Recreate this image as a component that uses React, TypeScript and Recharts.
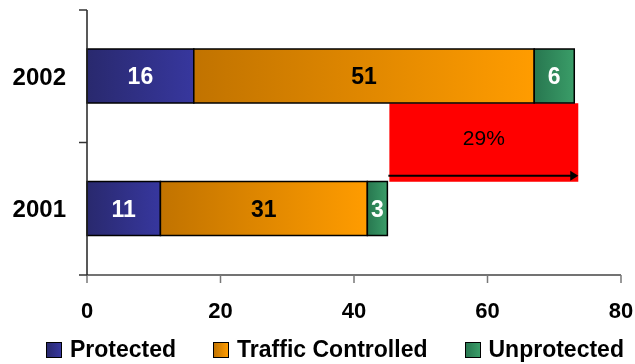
import React from 'react'
import { BarChart, Bar, XAxis, YAxis, Legend, LabelList, ReferenceArea } from 'recharts'

// values
const years = ['2002', '2001']
const protectedVals = [16, 11]
const trafficVals = [51, 31]
const unprotectedVals = [6, 3]
const xTicks = [0, 20, 40, 60, 80]

// the red "growth" box between the two bars
const growthLabel = '29%'
const growthFrom = 45.3
const growthTo = 73.6

const data = years.map((year, i) => ({
  year,
  protected: protectedVals[i],
  traffic: trafficVals[i],
  unprotected: unprotectedVals[i],
}))

const FONT = 'Arial, "Liberation Sans", sans-serif'
const BAR_SIZE = 54

const series = [
  { key: 'protected', name: 'Protected', from: '#29296e', to: '#37379e', label: '#ffffff' },
  { key: 'traffic', name: 'Traffic Controlled', from: '#c17300', to: '#ff9c00', label: '#000000' },
  { key: 'unprotected', name: 'Unprotected', from: '#287750', to: '#3a9d68', label: '#ffffff' },
]

const YearTick = (props: any) => {
  const { x, y, payload, index, visibleTicksCount } = props
  const half = payload.offset ?? 0
  return (
    <g>
      <text x={x} y={y} textAnchor="end" dominantBaseline="central" fontFamily={FONT} fontWeight="bold" fontSize={24} fill="#000">
        {payload.value}
      </text>
      <line x1={x + 13} x2={x + 21} y1={y - half} y2={y - half} stroke="#333" strokeWidth={1.5} />
      {index === visibleTicksCount - 1 && (
        <line x1={x + 13} x2={x + 21} y1={y + half} y2={y + half} stroke="#333" strokeWidth={1.5} />
      )}
    </g>
  )
}

// area spans both bands; the box sits in the gap between the two bars
const GrowthBox = (props: any) => {
  const { x, y, width, height } = props
  const top = y + height / 4 + BAR_SIZE / 2
  const bottom = y + (height * 3) / 4 - BAR_SIZE / 2
  const ay = bottom - 6
  const right = x + width
  return (
    <g>
      <rect x={x} y={top} width={width} height={bottom - top} fill="#ff0000" />
      <text x={x + width / 2} y={(top + bottom) / 2 - 5} textAnchor="middle" dominantBaseline="central" fontFamily={FONT} fontSize={21} fill="#000">
        {growthLabel}
      </text>
      <line x1={x - 1} y1={ay} x2={right - 6} y2={ay} stroke="#000" strokeWidth={2} />
      <path d={`M${right},${ay} L${right - 8},${ay - 5} L${right - 8},${ay + 5} Z`} fill="#000" />
    </g>
  )
}

const renderLegend = () => (
  <div style={{ display: 'flex', alignItems: 'center', fontFamily: FONT, fontWeight: 'bold', fontSize: 23, color: '#000', whiteSpace: 'nowrap' }}>
    {series.map((s, i) => (
      <div key={s.key} style={{ display: 'flex', alignItems: 'center', marginLeft: i === 0 ? 0 : 37 }}>
        <span
          style={{
            display: 'inline-block',
            width: 14,
            height: 14,
            border: '1.5px solid #000',
            background: `linear-gradient(to right, ${s.from}, ${s.to})`,
          }}
        />
        <span style={{ marginLeft: 8 }}>{s.name}</span>
      </div>
    ))}
  </div>
)

export default function App() {
  return (
    <div style={{ position: 'fixed', left: 0, top: 0 }}>
      <BarChart width={635} height={364} data={data} layout="vertical" margin={{ top: 10, right: 14, left: 0, bottom: 0 }}>
        <defs>
          {series.map((s) => (
            <linearGradient key={s.key} id={`grad-${s.key}`} x1="0" y1="0" x2="1" y2="0">
              <stop offset="0%" stopColor={s.from} />
              <stop offset="100%" stopColor={s.to} />
            </linearGradient>
          ))}
        </defs>
        <XAxis
          type="number"
          domain={[0, 80]}
          ticks={xTicks}
          interval={0}
          height={61}
          axisLine={{ stroke: '#444', strokeWidth: 1.5 }}
          tickLine={{ stroke: '#777', strokeWidth: 1.5 }}
          tickSize={8}
          tickMargin={19}
          tick={{ fontFamily: FONT, fontWeight: 'bold', fontSize: 22, fill: '#000' }}
        />
        <YAxis
          type="category"
          dataKey="year"
          width={87}
          axisLine={{ stroke: '#222', strokeWidth: 1.5 }}
          tickLine={false}
          tickSize={8}
          tickMargin={13}
          tick={<YearTick />}
        />
        <Legend verticalAlign="bottom" height={28} content={renderLegend} wrapperStyle={{ left: 46, width: 'auto' }} />
        {series.map((s) => (
          <Bar
            key={s.key}
            dataKey={s.key}
            name={s.name}
            stackId="a"
            barSize={BAR_SIZE}
            fill={`url(#grad-${s.key})`}
            stroke="#000"
            strokeWidth={1.5}
            isAnimationActive={false}
          >
            <LabelList dataKey={s.key} position="center" fill={s.label} fontFamily={FONT} fontWeight="bold" fontSize={23} />
          </Bar>
        ))}
        <ReferenceArea x1={growthFrom} x2={growthTo} y1={years[0]} y2={years[1]} shape={<GrowthBox />} />
      </BarChart>
    </div>
  )
}
